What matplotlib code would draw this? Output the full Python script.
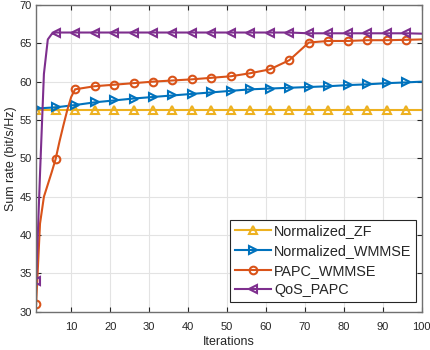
import matplotlib
matplotlib.use('Agg')
import matplotlib.pyplot as plt

plt.rcParams['font.family'] = ['Liberation Sans', 'DejaVu Sans']

# iterations
it_coarse = [1, 6, 11, 16, 21, 26, 31, 36, 41, 46, 51, 56, 61, 66, 71, 76, 81, 86, 91, 96, 100]
it_papc = [1, 2, 3, 4, 5, 6, 7, 8, 9, 10, 11, 16, 21, 26, 31, 36, 41, 46, 51, 56,
           61, 66, 71, 76, 81, 86, 91, 96, 100]
it_qos = [1, 2, 3, 4, 5, 6, 11, 16, 21, 26, 31, 36, 41, 46, 51, 56, 61, 66, 71, 76,
          81, 86, 91, 96, 100]

zf = [56.3, 56.3, 56.3, 56.3, 56.3, 56.3, 56.3, 56.3, 56.3, 56.3, 56.3,
      56.3, 56.3, 56.3, 56.3, 56.3, 56.3, 56.3, 56.3, 56.3, 56.3]
wmmse = [56.5, 56.65, 56.95, 57.3, 57.55, 57.8, 58.0, 58.2, 58.4, 58.6, 58.8,
         59.0, 59.1, 59.2, 59.3, 59.4, 59.55, 59.65, 59.8, 59.9, 60.0]
papc = [31.0, 41.5, 45.0, 46.6, 48.2, 49.9, 52.2, 54.3, 56.3, 58.0, 59.0,
        59.4, 59.6, 59.8, 60.0, 60.15, 60.3, 60.5, 60.7, 61.1, 61.6, 62.8,
        65.1, 65.3, 65.3, 65.4, 65.4, 65.45, 65.5]
qos = [34.0, 48.0, 61.0, 65.5, 66.2, 66.4, 66.4, 66.4, 66.4, 66.4, 66.4, 66.4,
       66.4, 66.4, 66.4, 66.4, 66.4, 66.4, 66.3, 66.3, 66.3, 66.3, 66.3, 66.3, 66.25]


def marks(x):
    return [i for i, v in enumerate(x) if (v - 1) % 5 == 0]


fig = plt.figure(figsize=(4.3, 3.5), dpi=100)
ax = fig.add_axes([0.084, 0.109, 0.897, 0.877])

style = dict(lw=1.5, ms=5.5, mew=1.5, mfc='none')
ax.plot(it_coarse, zf, '-^', color='#EDB120', markevery=marks(it_coarse),
        label='Normalized_ZF', **style)
ax.plot(it_coarse, wmmse, '->', color='#0072BD', markevery=marks(it_coarse),
        label='Normalized_WMMSE', **style)
ax.plot(it_papc, papc, '-o', color='#D95319', markevery=marks(it_papc),
        label='PAPC_WMMSE', **style)
ax.plot(it_qos, qos, '-<', color='#7E2F8E', markevery=marks(it_qos),
        label='QoS_PAPC', **style)

ax.set_xlim(1, 100)
ax.set_ylim(30, 70)
ax.set_xticks(range(10, 101, 10))
ax.set_yticks(range(30, 71, 5))
ax.grid(True, color='#e3e3e3', lw=0.8)
ax.set_axisbelow(True)
ax.tick_params(direction='in', top=True, right=True, length=3.5, width=0.8,
               labelsize=8, colors='#262626')
ax.tick_params(axis='x', pad=7)
ax.tick_params(axis='y', pad=3)
for sp in ax.spines.values():
    sp.set_color('#707070')
    sp.set_linewidth(1.0)

ax.set_xlabel('Iterations', fontsize=9, color='#262626', labelpad=3)
ax.set_ylabel('Sum rate (bit/s/Hz)', fontsize=9, color='#262626', labelpad=2)

leg = ax.legend(loc='lower right', bbox_to_anchor=(0.985, 0.033), borderaxespad=0,
                fontsize=10.4, fancybox=False, framealpha=1, edgecolor='#262626',
                handlelength=2.5, handletextpad=0.25, borderpad=0.3, labelspacing=0.4)
leg.get_frame().set_linewidth(0.8)
for t in leg.get_texts():
    t.set_color('#262626')

fig.savefig('out.png', dpi=100)
